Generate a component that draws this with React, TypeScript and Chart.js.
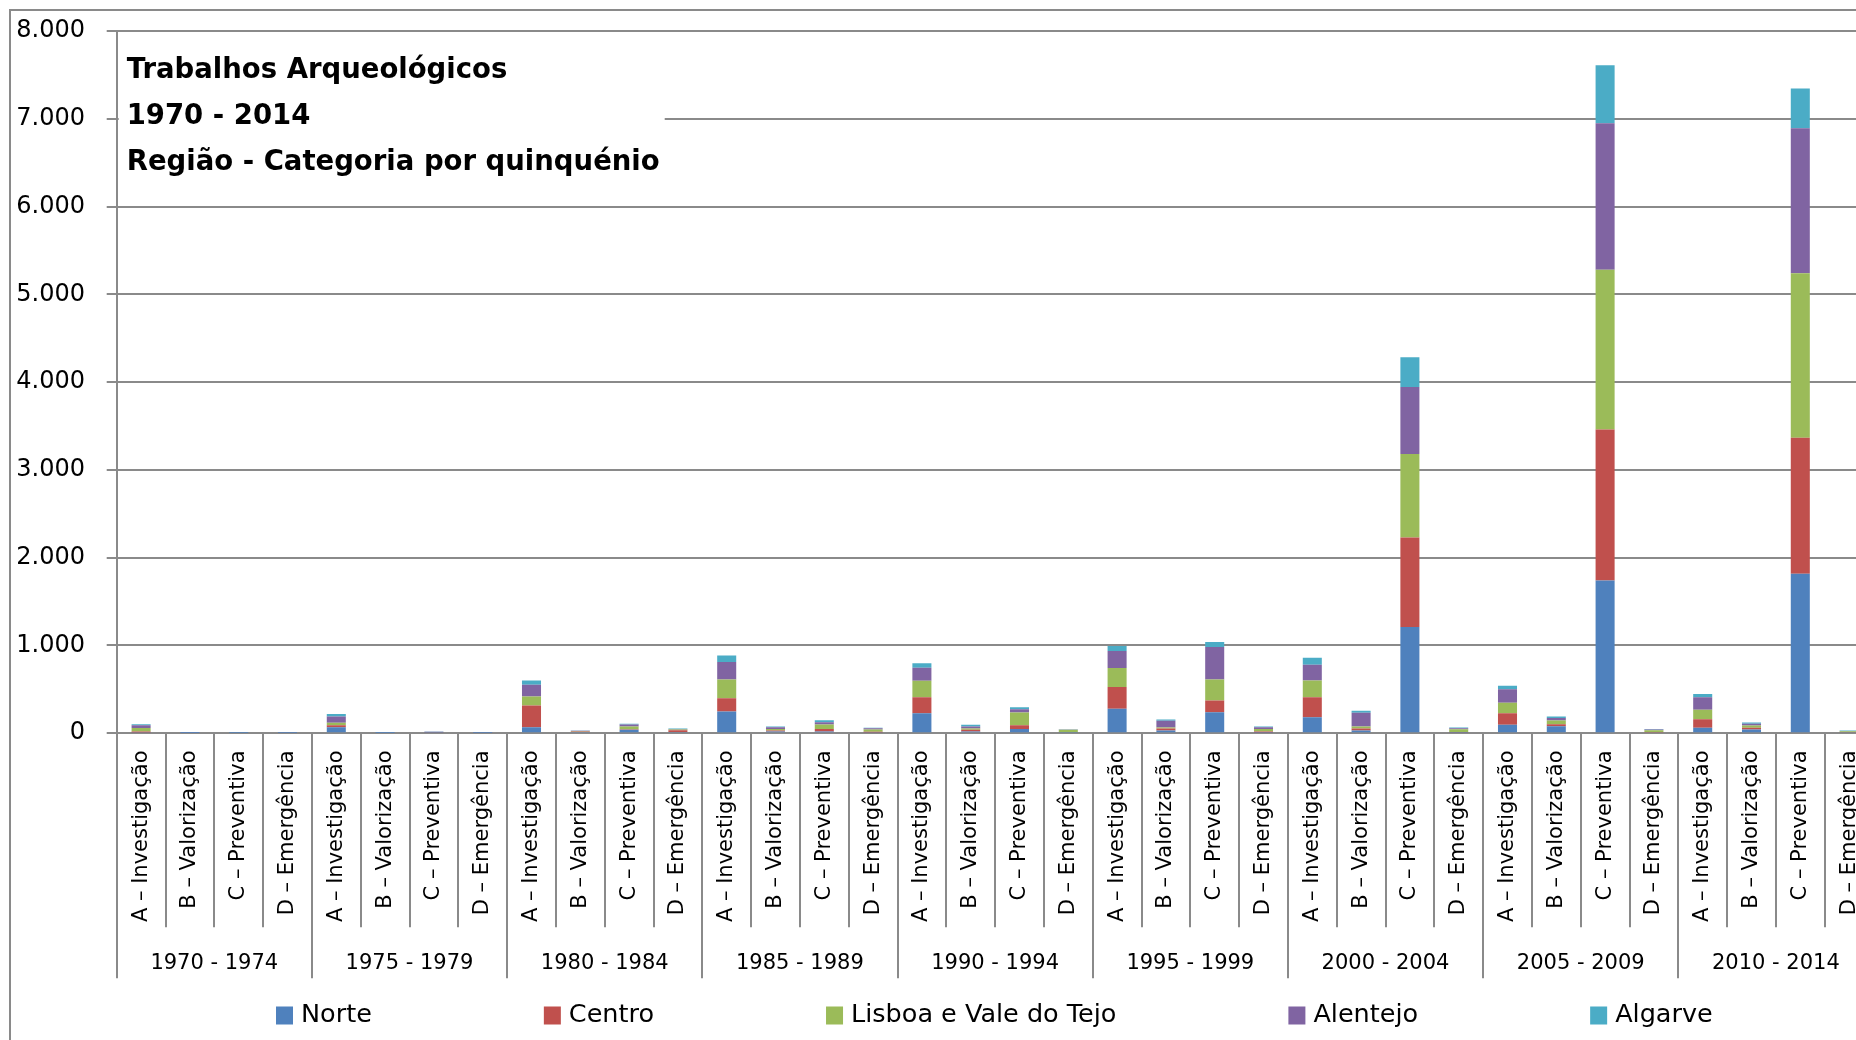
import React, { useEffect, useRef } from 'react';
import { Chart, registerables } from 'chart.js';

Chart.register(...registerables);

const categoryNames = ['A – Investigação', 'B – Valorização', 'C – Preventiva', 'D – Emergência'];
const periods = ['1970 - 1974', '1975 - 1979', '1980 - 1984', '1985 - 1989', '1990 - 1994', '1995 - 1999', '2000 - 2004', '2005 - 2009', '2010 - 2014'];
const categories = periods.flatMap(() => categoryNames);

const titleLines = ['Trabalhos Arqueológicos', '1970 - 2014', 'Região - Categoria por quinquénio'];

const seriesNames = ['Norte', 'Centro', 'Lisboa e Vale do Tejo', 'Alentejo', 'Algarve'];
const seriesColors = ['#4F81BD', '#C0504D', '#9BBB59', '#8064A2', '#4BACC6'];

//             1970-74          1975-79         1980-84            1985-89            1990-94            1995-99             2000-04              2005-09             2010-14
const norte = [8, 1, 3, 2,      68, 1, 6, 3,    68, 15, 38, 15,    247, 19, 19, 8,    228, 19, 49, 4,    278, 30, 240, 4,    183, 30, 1210, 5,    95, 80, 1740, 10,   61, 42, 1817, 8];
const centro = [12, 1, 2, 4,    22, 0, 4, 3,    247, 5, 8, 20,     152, 11, 30, 8,    183, 19, 42, 4,    247, 23, 133, 15,   228, 23, 1020, 5,    133, 23, 1720, 5,   99, 19, 1550, 4];
const lisboa = [40, 1, 2, 1,    30, 1, 3, 2,    103, 4, 30, 8,     213, 19, 49, 25,   186, 15, 144, 30,  217, 12, 240, 30,   190, 23, 950, 35,    118, 42, 1820, 20,  106, 27, 1875, 10];
const alentejo = [30, 1, 1, 4,  70, 1, 3, 2,    133, 3, 23, 6,     198, 19, 27, 15,   148, 23, 38, 5,    194, 78, 369, 19,   179, 156, 765, 12,   156, 27, 1670, 6,   144, 19, 1650, 4];
const algarve = [12, 0, 3, 1,   28, 0, 2, 2,    49, 3, 8, 4,       76, 8, 23, 5,      53, 19, 23, 3,     57, 12, 57, 8,      80, 23, 340, 8,      38, 19, 660, 8,     38, 15, 455, 4];

const seriesValues = [norte, centro, lisboa, alentejo, algarve];

const yMax = 8000;
const yStep = 1000;

const GRID = '#8a8a8a';
const SHIFT = 16.5;

function fmt(v: number): string {
  return String(v).replace(/\B(?=(\d{3})+(?!\d))/g, '.');
}

const insetTitle = {
  id: 'insetTitle',
  beforeDatasetsDraw(chart: any) {
    const { ctx, chartArea } = chart;
    ctx.save();
    ctx.fillStyle = '#ffffff';
    ctx.fillRect(chartArea.left + 2, 29 + SHIFT, 546, 146);
    ctx.fillStyle = '#000000';
    ctx.font = 'bold 27.5px "DejaVu Sans"';
    ctx.textBaseline = 'alphabetic';
    ctx.textAlign = 'left';
    titleLines.forEach((t, i) => ctx.fillText(t, chartArea.left + 10, 66 + SHIFT + i * 46));
    ctx.restore();
  },
};

const bottomLegend = {
  id: 'bottomLegend',
  afterDraw(chart: any) {
    const { ctx } = chart;
    ctx.save();
    ctx.font = '25.5px "DejaVu Sans"';
    ctx.textBaseline = 'middle';
    ctx.textAlign = 'left';
    let x = 265;
    chart.data.datasets.forEach((ds: any) => {
      ctx.fillStyle = ds.backgroundColor;
      ctx.fillRect(x, 995 + SHIFT, 17, 18);
      ctx.fillStyle = '#000000';
      ctx.fillText(ds.label, x + 25, 1004 + SHIFT);
      x += 25 + ctx.measureText(ds.label).width + 172;
    });
    ctx.restore();
  },
};

export default function App() {
  const ref = useRef<HTMLCanvasElement | null>(null);

  useEffect(() => {
    if (!ref.current) return;
    const chart = new Chart(ref.current, {
      type: 'bar',
      data: {
        labels: categories,
        datasets: seriesNames.map((name, i) => ({
          label: name,
          data: seriesValues[i],
          backgroundColor: seriesColors[i],
          borderWidth: 0,
          categoryPercentage: 1,
          barPercentage: 0.39,
        })),
      },
      options: {
        animation: false,
        responsive: false,
        devicePixelRatio: 1,
        layout: { padding: { left: 0, top: 5.3, right: 127.5, bottom: 66.8 } },
        plugins: {
          legend: { display: false },
          title: { display: false },
          tooltip: { enabled: false },
        },
        scales: {
          x: {
            type: 'category',
            position: 'bottom',
            stacked: true,
            offset: true,
            weight: 0,
            grid: {
              offset: true,
              drawOnChartArea: false,
              drawTicks: true,
              tickLength: 194,
              color: GRID,
              lineWidth: 2,
            },
            border: { display: true, color: GRID, width: 2 },
            ticks: {
              autoSkip: false,
              minRotation: 90,
              maxRotation: 90,
              padding: -176.7,
              color: '#000000',
              font: { family: '"DejaVu Sans"', size: 21 },
            },
            afterFit(scale: any) {
              scale.height = 194;
            },
          },
          x2: {
            type: 'category',
            position: 'bottom',
            labels: periods,
            offset: true,
            weight: 1,
            grid: {
              offset: true,
              drawOnChartArea: false,
              drawTicks: true,
              tickLength: 51,
              color: GRID,
              lineWidth: 2,
            },
            border: { display: false },
            ticks: {
              autoSkip: false,
              maxRotation: 0,
              minRotation: 0,
              padding: -27,
              color: '#000000',
              font: { family: '"DejaVu Sans"', size: 21 },
            },
            afterFit(scale: any) {
              scale.height = 51;
            },
          },
          y: {
            stacked: true,
            min: 0,
            max: yMax,
            grid: {
              color: GRID,
              lineWidth: 2,
              drawTicks: true,
              tickLength: 10,
            },
            border: { display: true, color: GRID, width: 2 },
            ticks: {
              stepSize: yStep,
              padding: 21.7,
              color: '#000000',
              font: { family: '"DejaVu Sans"', size: 24 },
              callback: (v: any) => fmt(Number(v)),
            },
            afterFit(scale: any) {
              scale.width = 105.7;
            },
          },
        },
      },
      plugins: [insetTitle, bottomLegend],
    });
    return () => chart.destroy();
  }, []);

  return (
    <div style={{ position: 'fixed', left: 0, top: 0, width: 1856, height: 1040, overflow: 'hidden', background: '#ffffff' }}>
      <div style={{ position: 'absolute', left: 9, top: 9, width: 1990, height: 1060, border: '2px solid #8a8a8a', background: '#ffffff', overflow: 'hidden' }}>
        <canvas ref={ref} width={1990} height={1050} style={{ display: 'block', width: 1990, height: 1050, marginTop: -SHIFT }} />
      </div>
    </div>
  );
}
